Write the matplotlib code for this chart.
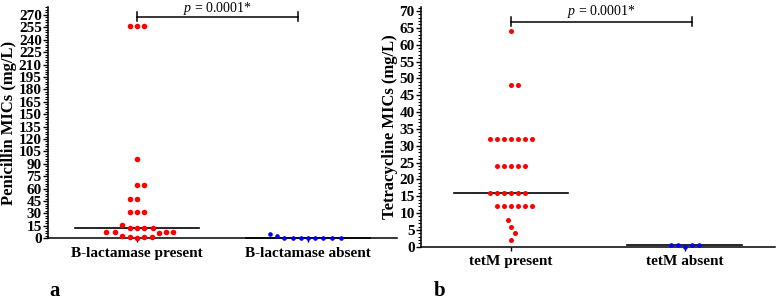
import numpy as np
import matplotlib.pyplot as plt
from matplotlib.ticker import MultipleLocator

plt.rcParams['font.family'] = ['Liberation Serif', 'DejaVu Serif']
plt.rcParams['mathtext.fontset'] = 'custom'
plt.rcParams['mathtext.rm'] = 'Liberation Serif'
plt.rcParams['mathtext.it'] = 'Liberation Serif:italic'

# panel a: penicillin MICs (mg/L)
pen_labels = ['B-lactamase present', 'B-lactamase absent']
pen_present = [256, 256, 256, 96, 64, 64, 48, 48, 32, 32, 32, 16,
               12, 12, 12, 12, 8, 8, 8, 8, 6, 3, 2, 2, 1, 0.25]
pen_absent = [3, 0.5, 0.5, 0.5, 0.5, 0.5, 0.5, 0.5, 0.5, 5]
pen_ticks = list(range(0, 271, 15))

# panel b: tetracycline MICs (mg/L)
tet_labels = ['tetM present', 'tetM absent']
tet_present = [64, 48, 48] + [32] * 7 + [24] * 5 + [16] * 6 + [12] * 6 + [8, 6, 4, 2]
tet_absent = [0.5, 0.5, 0.06, 0.5, 0.5]
tet_ticks = list(range(0, 71, 5))

p_text = r'$p$ = 0.0001*'


def swarm_x(ax, values, center, step_px, diam_px):
    # simple greedy beeswarm done in pixel space
    trans = ax.transData
    x0, _ = trans.transform((center, 0))
    placed = []
    xs = {}
    order = np.argsort(values, kind='stable')
    for i in order:
        _, yp = trans.transform((center, values[i]))
        n_right = sum(1 for (px, py) in placed if px > x0 + 0.1)
        n_left = sum(1 for (px, py) in placed if px < x0 - 0.1)
        sign = 1 if n_right <= n_left else -1
        cands = [0.0]
        for k in range(1, 60):
            cands += [sign * k * step_px / 4, -sign * k * step_px / 4]
        for off in cands:
            ok = True
            for (px, py) in placed:
                if np.hypot(x0 + off - px, yp - py) < diam_px:
                    ok = False
                    break
            if ok:
                break
        placed.append((x0 + off, yp))
        xs[i] = trans.inverted().transform((x0 + off, yp))[0]
    return [xs[i] for i in range(len(values))]


def draw_panel(ax, labels, present, absent, ticks, ylim, minor, step_px,
               half_w, s_red, s_blue, ylabel, bracket_x, bracket_y, cap, text_y):
    ax.set_xlim(0.48, 2.52)
    ax.set_ylim(*ylim)
    for sp in ['top', 'right']:
        ax.spines[sp].set_visible(False)
    for sp in ['left', 'bottom']:
        ax.spines[sp].set_linewidth(1.1)
    ax.set_yticks(ticks)
    ax.yaxis.set_minor_locator(MultipleLocator(minor))
    ax.set_xticks([1, 2])
    ax.set_xticklabels(labels, fontsize=11, fontweight='bold')
    ax.tick_params(axis='y', which='major', length=3.5, width=1, pad=1,
                   labelsize=11)
    ax.tick_params(axis='y', which='minor', length=2, width=0.8)
    ax.tick_params(axis='x', length=3, width=1, pad=3)
    for lab in ax.get_yticklabels():
        lab.set_fontweight('bold')
    ax.set_ylabel(ylabel, fontsize=12, fontweight='bold', labelpad=1)

    for pos, vals, col, s in [(1, present, 'red', s_red), (2, absent, 'blue', s_blue)]:
        xs = swarm_x(ax, vals, pos, step_px, step_px)
        ax.scatter(xs, vals, s=s, color=col, linewidths=0, zorder=4, clip_on=False)
        med = np.median(vals)
        ax.plot([pos - half_w, pos + half_w], [med, med], color='black',
                lw=1.2, zorder=3, clip_on=False)

    x1, x2 = bracket_x
    ax.plot([x1, x2], [bracket_y, bracket_y], color='black', lw=1.1, clip_on=False)
    for xx in (x1, x2):
        ax.plot([xx, xx], [bracket_y - cap, bracket_y + cap], color='black',
                lw=1.1, clip_on=False)
    ax.text((x1 + x2) / 2, text_y, p_text, ha='center', va='baseline', fontsize=10)


fig = plt.figure(figsize=(7.78, 3.02), dpi=100)
ax_a = fig.add_axes([0.0617, 0.211, 0.4486, 0.767])
ax_b = fig.add_axes([0.541, 0.183, 0.455, 0.795])

draw_panel(ax_a, pen_labels, pen_present, pen_absent, pen_ticks, (0, 280), 3,
           7.3, 0.36, 16, 11, 'Penicillin MICs (mg/L)',
           (1.0, 1.94), 268, 5.4, 273)
draw_panel(ax_b, tet_labels, tet_present, tet_absent, tet_ticks, (0, 71.3), 1,
           7.0, 0.33, 13, 11, 'Tetracycline MICs (mg/L)',
           (1.0, 2.04), 66.8, 1.35, 68.8)

fig.text(0.063, 0.004, 'a', fontsize=15, fontweight='bold', ha='left', va='bottom')
fig.text(0.557, 0.004, 'b', fontsize=15, fontweight='bold', ha='left', va='bottom')

fig.savefig('out.png', dpi=100)
